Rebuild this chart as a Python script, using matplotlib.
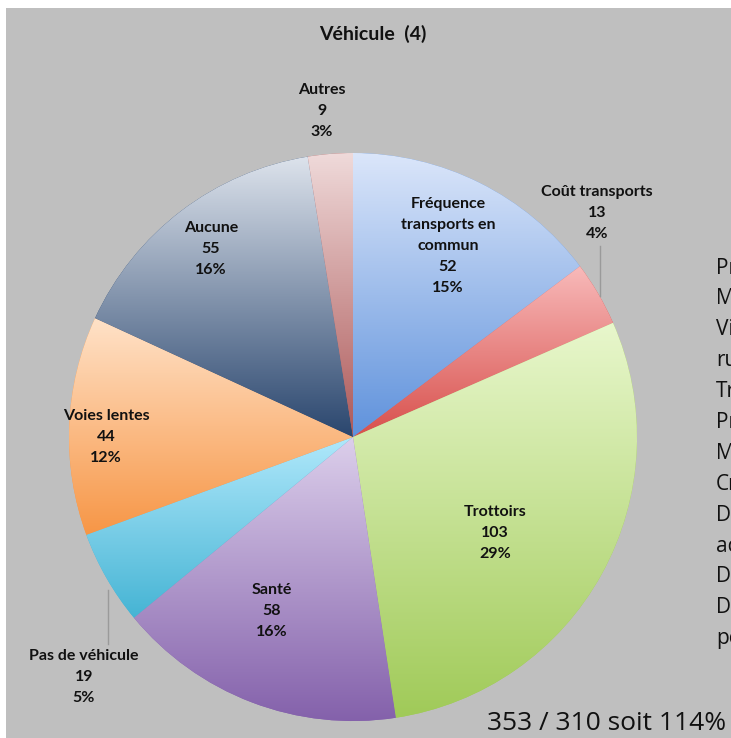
import matplotlib
matplotlib.use("Agg")
import matplotlib.pyplot as plt
import numpy as np
from matplotlib.patches import Rectangle
from matplotlib.colors import to_rgb

categories = ["Fréquence\ntransports en\ncommun", "Coût transports", "Trottoirs", "Santé",
              "Pas de véhicule", "Voies lentes", "Aucune", "Autres"]
values = [52, 13, 103, 58, 19, 44, 55, 9]
percents = ["15%", "4%", "29%", "16%", "5%", "12%", "16%", "3%"]
top_colors = ["#dbe6fa", "#f8baba", "#e8f7cc", "#dccfeb", "#b0e8fb", "#ffe2c8", "#dde3ec", "#efdada"]
bottom_colors = ["#5f92dc", "#d8504c", "#a0ca58", "#8461ab", "#45b4d4", "#f79646", "#2a466e", "#ad5858"]
title = "Véhicule  (4)"
side_lines = ["Pr", "M", "Vi", "ru", "Tr", "Pr", "M", "Cr", "D", "ac", "Da", "D", "pe"]
footer = "353 / 310 soit 114%"

W, H = 731, 738
fig = plt.figure(figsize=(W / 100, H / 100), dpi=100)
fig.patch.set_facecolor("white")
ax = fig.add_axes([0, 0, 1, 1])
ax.set_xlim(0, W)
ax.set_ylim(0, H)
ax.set_aspect("equal")
ax.axis("off")

ax.add_patch(Rectangle((6, 0), W - 6, H - 8, facecolor="#bfbfbf", edgecolor="none", zorder=0))

cx, cy, R = 353, H - 437, 284
wedges, _ = ax.pie(values, center=(cx, cy), radius=R, startangle=90, counterclock=False,
                   wedgeprops=dict(edgecolor="none", linewidth=0))
for w, tc, bc in zip(wedges, top_colors, bottom_colors):
    w.set_facecolor(bc)
    w.set_zorder(1)
    ext = w.get_path().get_extents()
    n = 256
    t = np.linspace(0, 1, n)[:, None]
    c0, c1 = np.array(to_rgb(tc)), np.array(to_rgb(bc))
    grad = (c0[None, :] * (1 - t) + c1[None, :] * t)[:, None, :]
    im = ax.imshow(grad, extent=(ext.x0, ext.x1, ext.y0, ext.y1), origin="upper",
                   aspect="auto", zorder=2, interpolation="bilinear")
    im.set_clip_path(w)

ax.set_xlim(0, W)
ax.set_ylim(0, H)

font = "Lato"
lbl_pos = [(448, 246), (597, 213), (495, 533), (272, 611), (84, 677), (106, 437), (211, 249), (322, 111)]
for (x, y), cat, v, p in zip(lbl_pos, categories, values, percents):
    ax.text(x, H - y, f"{cat}\n{v}\n{p}", ha="center", va="center", fontsize=11.5,
            fontweight="bold", family=font, linespacing=1.62, zorder=5, color="#111111")

# leader lines
ax.plot([600, 600], [H - 246, H - 296], color="#9a9a9a", lw=1, zorder=5)
ax.plot([108, 108], [H - 590, H - 644], color="#9a9a9a", lw=1, zorder=5)

ax.text(373, H - 34, title, ha="center", va="center", fontsize=14, fontweight="bold",
        family=font, zorder=5, color="#111111")

for i, s in enumerate(side_lines):
    ax.text(716, H - (268 + i * 30.9), s, ha="left", va="center", fontsize=15,
            family="Open Sans", zorder=5, color="#111111")

ax.text(487, H - 723, footer, ha="left", va="center", fontsize=19, family="Open Sans",
        zorder=5, color="#111111")

fig.savefig("out.png", dpi=100, facecolor=fig.get_facecolor())
